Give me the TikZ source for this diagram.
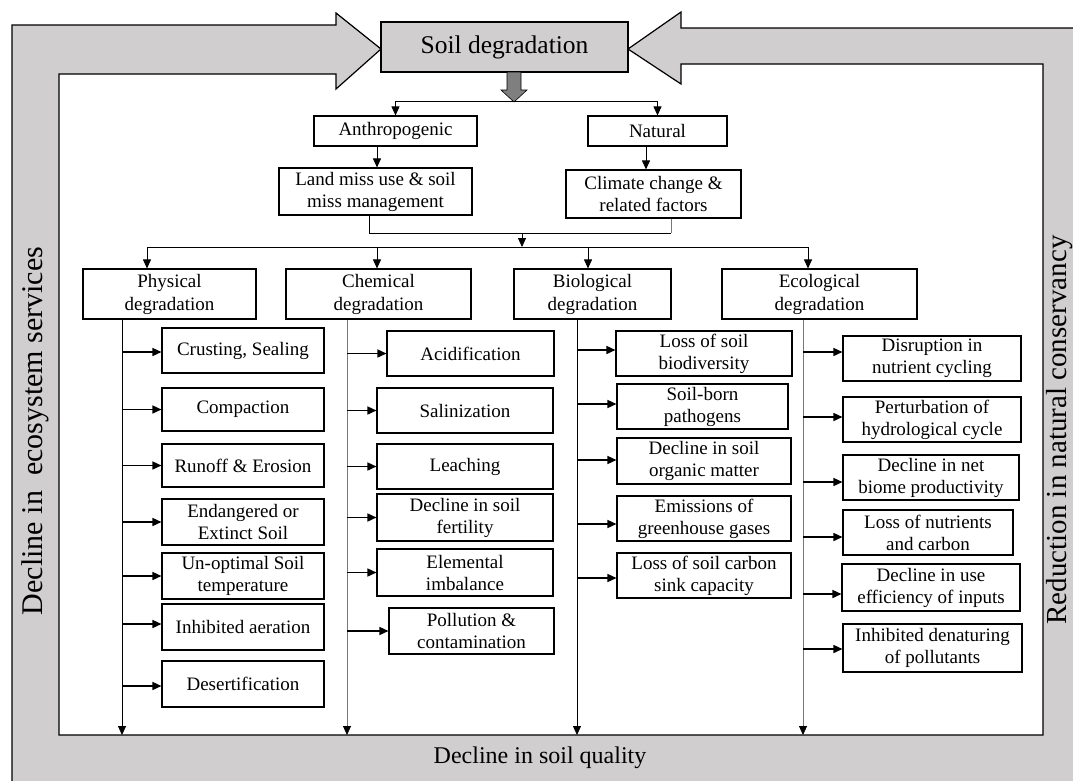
\documentclass[tikz,border=0pt]{standalone}
\usepackage{fontspec}
\setmainfont{Liberation Serif}
\usetikzlibrary{arrows.meta}
\definecolor{framegray}{RGB}{208,206,206}
\definecolor{darkarrow}{RGB}{127,127,127}
\definecolor{trunkgray}{RGB}{120,120,120}
\newcommand\fsz[2]{\fontsize{#1}{#2}\selectfont}
\begin{document}
\begin{tikzpicture}[x=1pt,y=-1pt,
  box/.style={draw, line width=1.1pt, fill=white, align=center, inner sep=0pt, font=\fsz{19}{22}},
  sz/.style 2 args={minimum width=#1, minimum height=#2},
  conn/.style={line width=0.8pt},
  arr/.style={conn, -{Triangle[length=9pt,width=8pt,color=black]}},
  subarr/.style={line width=1.5pt, -{Triangle[length=9pt,width=8pt]}},
  side/.style={font=\fsz{30}{30}, inner sep=0pt}]
\useasboundingbox (0,0) rectangle (1073,780);

% grey loop frame with the two block arrows feeding the top box
\draw[fill=framegray, line width=1.2pt]
  (12,800) -- (12,25) -- (336,25) -- (336,13) -- (381,49) -- (336,89) -- (336,74)
  -- (59,74) -- (59,735) -- (1043,735) -- (1043,64) -- (681,64) -- (681,84)
  -- (628,49) -- (681,12) -- (681,28) -- (1090,28) -- (1090,800) -- cycle;

% frame labels
\node[side, rotate=90] (eco) at (35,431) {Decline in\ \ ecosystem services};
\node[side, rotate=90, font=\fsz{29}{29}] (cons) at (1060,430) {Reduction in natural conservancy};
\node[font=\fsz{24}{24}, inner sep=0pt] (qual) at (540,758) {Decline in soil quality};

% top box and its heavy arrow
\node[box, fill=framegray, sz={247}{50}, font=\fsz{25.5}{27}] (soil) at (504.5,47) {Soil degradation};
\draw[fill=darkarrow, line width=0.6pt]
  (507,72) -- (521,72) -- (521,90) -- (527,90) -- (514,102) -- (501,90) -- (507,90) -- cycle;
\coordinate (split) at (514,101);

% causes
\node[box, sz={163}{30}] (anth) at (395.5,131) {Anthropogenic};
\node[box, sz={139}{30}] (nat) at (657.5,131) {Natural};
\node[box, sz={193}{47}] (land) at (375.5,191.5) {Land miss use \& soil\\miss management};
\node[box, sz={175}{48}] (clim) at (653.5,194) {Climate change \&\\related factors};

\draw[arr] (split) -| (anth.north);
\draw[arr] (split) -| (nat.north);
\coordinate (landx) at (377,0);
\coordinate (climx) at (646,0);
\draw[arr] (anth.south -| landx) -- (land.north -| landx);
\draw[arr] (nat.south -| climx) -- (clim.north -| climx);

% merge into the four kinds of degradation
\coordinate (mergeL) at (369,0);
\coordinate (mergeR) at (671,0);
\coordinate (mergeY) at (0,233);
\coordinate (mid) at (522,233);
\coordinate (catY) at (0,247);
\draw[conn] (land.south -| mergeL) |- (mergeY -| mergeR);
\draw[conn, trunkgray] (mergeY -| mergeR) -- (clim.south -| mergeR);
\draw[arr] (mid) -- (mid |- catY);

\node[box, sz={173}{50}, font=\fsz{19}{23}] (phys) at (169.5,294) {Physical\\degradation};
\node[box, sz={185}{50}, font=\fsz{19}{23}] (chem) at (378.5,294) {Chemical\\degradation};
\node[box, sz={157}{50}, font=\fsz{19}{23}] (biol) at (592.5,294) {Biological\\degradation};
\node[box, sz={195}{50}, font=\fsz{19}{23}] (ecol) at (819.5,294) {Ecological\\degradation};

\coordinate (px) at (147,0);
\coordinate (cx) at (377,0);
\coordinate (bx) at (588,0);
\coordinate (ex) at (808,0);
\draw[conn] (px |- catY) -- (ex |- catY);
\draw[arr] (px |- catY) -- (px |- phys.north);
\draw[arr] (cx |- catY) -- (cx |- chem.north);
\draw[arr] (bx |- catY) -- (bx |- biol.north);
\draw[arr] (ex |- catY) -- (ex |- ecol.north);

% trunk lines down to the soil quality band
\coordinate (pl) at (122,735);
\coordinate (cl) at (347,735);
\coordinate (bl) at (577,735);
\coordinate (el) at (803,735);
\draw[arr] (pl |- phys.south) -- (pl);
\draw[arr, trunkgray] (cl |- chem.south) -- (cl);
\draw[arr] (bl |- biol.south) -- (bl);
\draw[arr, trunkgray] (el |- ecol.south) -- (el);

% physical
\node[box, sz={162}{45}] (p1) at (243,350.5) {Crusting, Sealing};
\node[box, sz={162}{43}] (p2) at (243,409.5) {Compaction};
\node[box, sz={162}{43}] (p3) at (243,465.5) {Runoff \& Erosion};
\node[box, sz={162}{46}] (p4) at (243,522) {Endangered or\\Extinct Soil};
\node[box, sz={162}{46}] (p5) at (243,576) {Un-optimal Soil\\temperature};
\node[box, sz={162}{46}] (p6) at (243,627) {Inhibited aeration};
\node[box, sz={162}{46}] (p7) at (243,684) {Desertification};
\foreach \b/\d in {p1/-1.5,p2/0,p3/0,p4/0,p5/0,p6/3,p7/-2} {
  \coordinate (t) at ([yshift=\d pt]\b.west);
  \draw[subarr] (pl |- t) -- (t);
}

% chemical
\node[box, sz={167}{45}] (c1) at (470.5,353.5) {Acidification};
\node[box, sz={176}{45}] (c2) at (465,410.5) {Salinization};
\node[box, sz={176}{45}] (c3) at (465,466.5) {Leaching};
\node[box, sz={176}{47}] (c4) at (465,517.5) {Decline in soil\\fertility};
\node[box, sz={176}{47}] (c5) at (465,572.5) {Elemental\\imbalance};
\node[box, sz={165}{46}] (c6) at (471.5,631) {Pollution \&\\contamination};
\foreach \b in {c1,c2,c3,c4,c5,c6} \draw[subarr] (cl |- \b.west) -- (\b.west);

% biological
\node[box, sz={176}{45}] (b1) at (704,353.5) {Loss of soil\\biodiversity};
\node[box, sz={171}{45}] (b2) at (702.5,406.5) {Soil-born\\pathogens};
\node[box, sz={174}{46}] (b3) at (704,461) {Decline in soil\\organic matter};
\node[box, sz={174}{45}] (b4) at (704,518.5) {Emissions of\\greenhouse gases};
\node[box, sz={174}{45}] (b5) at (704,575.5) {Loss of soil carbon\\sink capacity};
\foreach \b/\d in {b1/3.5,b2/2.5,b3/1,b4/-5.5,b5/-2.5} {
  \coordinate (t) at ([yshift=\d pt]\b.west);
  \draw[subarr] (bl |- t) -- (t);
}

% ecological
\node[box, sz={178}{45}] (e1) at (932,358.5) {Disruption in\\nutrient cycling};
\node[box, sz={178}{45}] (e2) at (932,419.5) {Perturbation of\\hydrological cycle};
\node[box, sz={176}{45}] (e3) at (931,477.5) {Decline in net\\biome productivity};
\node[box, sz={170}{45}] (e4) at (928,532.5) {Loss of nutrients\\and carbon};
\node[box, sz={178}{47}] (e5) at (931,587.5) {Decline in use\\efficiency of inputs};
\node[box, sz={179}{48}] (e6) at (932.5,648) {Inhibited denaturing\\of pollutants};
\foreach \b/\d in {e1/6.5,e2/2.5,e3/-4.5,e4/-4.5,e5/-6.5,e6/-1} {
  \coordinate (t) at ([yshift=\d pt]\b.west);
  \draw[subarr] (el |- t) -- (t);
}
\end{tikzpicture}
\end{document}
